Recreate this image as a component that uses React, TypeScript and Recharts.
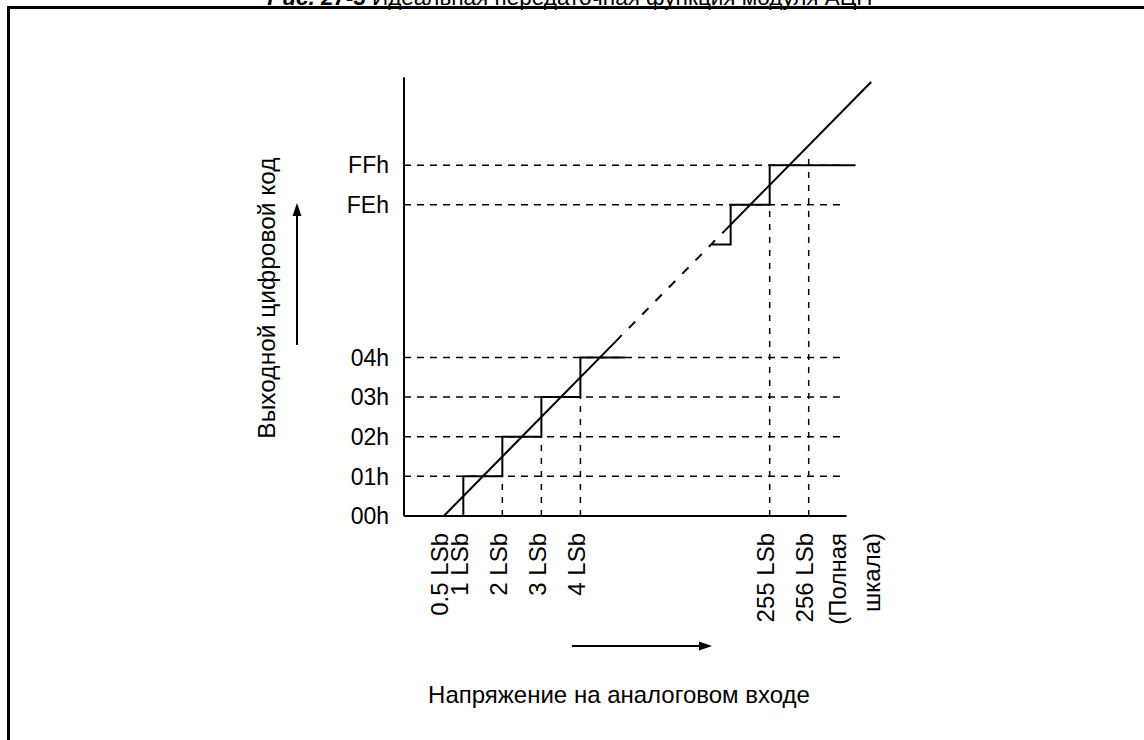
import React from 'react';
import { ComposedChart, Line, XAxis, YAxis, ReferenceLine, Customized } from 'recharts';

// ---- data (LSb on x, output code on y) ----
const GAP = 246.15; // axis break: high values are drawn shifted left/down by this amount
const brk = (v: number) => (v > 100 ? v - GAP : v);

const xTickLsb = [0.5, 1, 2, 3, 4, 255, 256];
const xTickLabels: string[][] = [
  ['0.5 LSb'],
  ['1 LSb'],
  ['2 LSb'],
  ['3 LSb'],
  ['4 LSb'],
  ['255 LSb'],
  ['256 LSb', '(Полная', 'шкала)'],
];
const yTickCodes = [0, 1, 2, 3, 4, 254, 255];
const yTickLabels = ['00h', '01h', '02h', '03h', '04h', 'FEh', 'FFh'];

// staircase corner points, low part
const stairLowLsb = [1, 1, 2, 2, 3, 3, 4, 4, 5.15];
const stairLowCode = [0, 1, 1, 2, 2, 3, 3, 4, 4];
// staircase corner points, high part
const stairHighLsb = [253.5, 254, 254, 255, 255, 257.2];
const stairHighCode = [253, 253, 254, 254, 255, 255];

// ideal transfer line
const idealLowLsb = [0.5, 4.9];
const idealLowCode = [0, 4.4];
const idealGapLsb = [4.9, 253.85];
const idealGapCode = [4.4, 253.35];
const idealHighLsb = [253.85, 257.6];
const idealHighCode = [253.35, 257.1];

// dashed guides
const hGuideCodes = [1, 2, 3, 4, 254, 255];
const vGuideLsb = [2, 3, 4, 255, 256];
const vGuideTopCode = [1, 2, 3, 254, 255.2];

const X_MIN = -0.52;
const X_AXIS_END = 10.82;
const Y_AXIS_END = 11.07;
const H_GUIDE_END = 10.8;

const FONT = '"Liberation Sans", Arial, Helvetica, sans-serif';

const toPts = (xs: number[], ys: number[]) => xs.map((x, i) => ({ x: brk(x), y: brk(ys[i]) }));

const stairLow = toPts(stairLowLsb, stairLowCode);
const stairHigh = toPts(stairHighLsb, stairHighCode);
const idealLow = toPts(idealLowLsb, idealLowCode);
const idealGap = toPts(idealGapLsb, idealGapCode);
const idealHigh = toPts(idealHighLsb, idealHighCode);

const xTicks = xTickLsb.map(brk);
const yTicks = yTickCodes.map(brk);

const LABEL_TOP = 533;

function XTick(props: any) {
  const { x, payload } = props;
  const idx = xTicks.findIndex((t) => Math.abs(t - payload.value) < 1e-6);
  const lines = idx >= 0 ? xTickLabels[idx] : [];
  const cx = x - 4;
  return (
    <text
      transform={`rotate(-90 ${cx} ${LABEL_TOP})`}
      x={cx}
      y={LABEL_TOP}
      textAnchor="end"
      fontSize={24}
      fontFamily={FONT}
      fill="#000"
    >
      {lines.map((l, i) => (
        <tspan key={i} x={cx} dy={i === 0 ? '0.36em' : '1.38em'}>
          {l}
        </tspan>
      ))}
    </text>
  );
}

function Decor() {
  return (
    <g>
      {/* frame */}
      <line x1={7} y1={7.5} x2={1144} y2={7.5} stroke="#000" strokeWidth={3} />
      <line x1={8.5} y1={6} x2={8.5} y2={740} stroke="#000" strokeWidth={3} />
      {/* caption (cut at top) */}
      <text x={366} y={5} textAnchor="end" fontSize={22.5} fontFamily={FONT} fill="#000" fontWeight="bold" fontStyle="italic">
        Рис. 27-3
      </text>
      <text x={372} y={5} textAnchor="start" fontSize={22.5} fontFamily={FONT} fill="#000">
        Идеальная передаточная функция модуля АЦП
      </text>
      {/* y title + arrow */}
      <text
        transform="rotate(-90 266 298)"
        x={266}
        y={298}
        dy="0.36em"
        textAnchor="middle"
        fontSize={24.5}
        fontFamily={FONT}
        fill="#000"
      >
        Выходной цифровой код
      </text>
      <line x1={297} y1={345} x2={297} y2={214} stroke="#000" strokeWidth={2} />
      <polygon points="297,203 292.5,216 301.5,216" fill="#000" />
      {/* x title + arrow */}
      <text x={619} y={703} textAnchor="middle" fontSize={24} fontFamily={FONT} fill="#000">
        Напряжение на аналоговом входе
      </text>
      <line x1={572} y1={646} x2={700} y2={646} stroke="#000" strokeWidth={2} />
      <polygon points="712,646 699,641.5 699,650.5" fill="#000" />
    </g>
  );
}

export default function App() {
  return (
    <div style={{ position: 'absolute', left: 0, top: 0, width: 1144, height: 740, background: '#fff' }}>
      <ComposedChart
        width={1144}
        height={740}
        margin={{ top: 76, right: 267, bottom: 194, left: 344 }}
      >
        <XAxis
          dataKey="x"
          type="number"
          domain={[X_MIN, 11.6]}
          ticks={xTicks}
          interval={0}
          allowDataOverflow
          axisLine={false}
          tickLine={false}
          height={30}
          tick={<XTick />}
        />
        <YAxis
          type="number"
          domain={[0, 11.1]}
          ticks={yTicks}
          interval={0}
          allowDataOverflow
          axisLine={false}
          tickLine={false}
          width={60}
          tickMargin={9}
          tick={{ fontSize: 23, fill: '#000', fontFamily: FONT }}
          tickFormatter={(v: number) => {
            const i = yTicks.findIndex((t) => Math.abs(t - v) < 1e-6);
            return i >= 0 ? yTickLabels[i] : '';
          }}
        />
        {hGuideCodes.map((c) => (
          <ReferenceLine
            key={'h' + c}
            segment={[
              { x: X_MIN, y: brk(c) },
              { x: H_GUIDE_END, y: brk(c) },
            ]}
            stroke="#000"
            strokeWidth={1.5}
            strokeDasharray="7 6"
            ifOverflow="visible"
          />
        ))}
        {vGuideLsb.map((l, i) => (
          <ReferenceLine
            key={'v' + l}
            segment={[
              { x: brk(l), y: 0 },
              { x: brk(l), y: brk(vGuideTopCode[i]) },
            ]}
            stroke="#000"
            strokeWidth={1.5}
            strokeDasharray="6 7"
            ifOverflow="visible"
          />
        ))}
        <ReferenceLine
          segment={[
            { x: X_MIN, y: 0 },
            { x: X_AXIS_END, y: 0 },
          ]}
          stroke="#000"
          strokeWidth={2}
          ifOverflow="visible"
        />
        <ReferenceLine
          segment={[
            { x: X_MIN, y: 0 },
            { x: X_MIN, y: Y_AXIS_END },
          ]}
          stroke="#000"
          strokeWidth={2}
          ifOverflow="visible"
        />
        <Line data={stairLow} dataKey="y" type="linear" stroke="#000" strokeWidth={2} dot={false} isAnimationActive={false} />
        <Line data={stairHigh} dataKey="y" type="linear" stroke="#000" strokeWidth={2} dot={false} isAnimationActive={false} />
        <Line data={idealLow} dataKey="y" type="linear" stroke="#000" strokeWidth={2} dot={false} isAnimationActive={false} />
        <Line data={idealGap} dataKey="y" type="linear" stroke="#000" strokeWidth={2} strokeDasharray="9 10" dot={false} isAnimationActive={false} />
        <Line data={idealHigh} dataKey="y" type="linear" stroke="#000" strokeWidth={2} dot={false} isAnimationActive={false} />
        <Customized component={Decor} />
      </ComposedChart>
    </div>
  );
}
